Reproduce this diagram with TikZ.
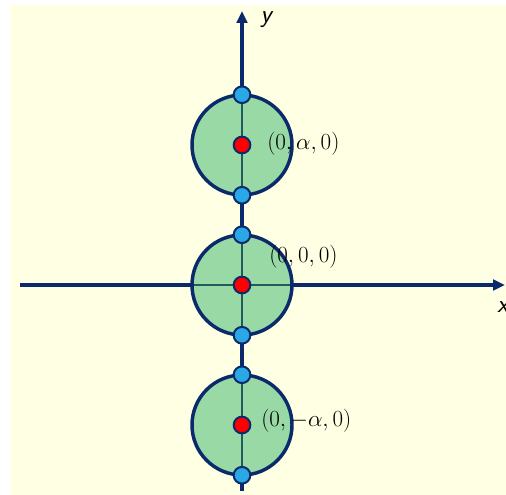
\documentclass[tikz,border=0pt]{standalone}
\usepackage{amsmath}
\usepackage{xcolor}
\usepackage{tikz}
\usetikzlibrary{positioning, arrows.meta, backgrounds}

\definecolor{axisblue}{HTML}{0B2A6B}
\definecolor{ballgreen}{HTML}{99D9A6}
\definecolor{innerteal}{HTML}{1F5C5C}
\definecolor{dotblue}{HTML}{2AA8E6}
\definecolor{paper}{HTML}{FFFFE3}

\begin{document}
\begin{tikzpicture}[x=0.75pt, y=-0.75pt,
    axis/.style={line width=2.5pt, draw=axisblue, -{Triangle[length=9pt, width=8pt]}},
    ball/.style={circle, fill=ballgreen, minimum size=75pt, inner sep=0pt},
    dotnode/.style={circle, draw=axisblue, line width=1.5pt, minimum size=12.5pt, inner sep=0pt},
    coordlabel/.style={anchor=west, inner sep=0pt, font=\fontsize{17.5}{21}\selectfont}]
  \useasboundingbox (0,0) rectangle (506,495);
  \fill[paper] (10,5) rectangle (506,495);

  % axes
  \coordinate (xstart) at (20,285);
  \coordinate (xend) at (505,285);
  \coordinate (ystart) at (242,491);
  \coordinate (yend) at (242,11);
  \draw[axis] (xstart) -- (xend);
  \draw[axis] (ystart) -- (yend);
  \node[anchor=west, inner sep=0pt, font=\sffamily\itshape\fontsize{19}{22}\selectfont] (xlabel) at (497,307) {x};
  \node[inner sep=0pt, font=\sffamily\itshape\fontsize{19}{22}\selectfont] (ylabel) at (266,20) {y};

  % balls
  \foreach \i/\yy in {top/145, mid/285, bot/425} {
    \node[ball] (ball\i) at (242,\yy) {};
    \draw[innerteal, line width=1.8pt] (ball\i.north) -- (ball\i.south);
  }
  \draw[innerteal, line width=1.8pt] (ballmid.west) -- (ballmid.east);
  \foreach \i in {top, mid, bot} {
    \draw[axisblue, line width=2.6pt] (ball\i.center) circle (50);
    \node[dotnode, fill=dotblue] (n\i) at (ball\i.north) {};
    \node[dotnode, fill=dotblue] (s\i) at (ball\i.south) {};
    \node[dotnode, fill=red] (c\i) at (ball\i.center) {};
  }

  \node[coordlabel] (labeltop) at (267,144) {$(0,\alpha,0)$};
  \node[coordlabel] (labelmid) at (269,257) {$(0,0,0)$};
  \node[coordlabel] (labelbot) at (261,421) {$(0,-\alpha,0)$};
\end{tikzpicture}
\end{document}
